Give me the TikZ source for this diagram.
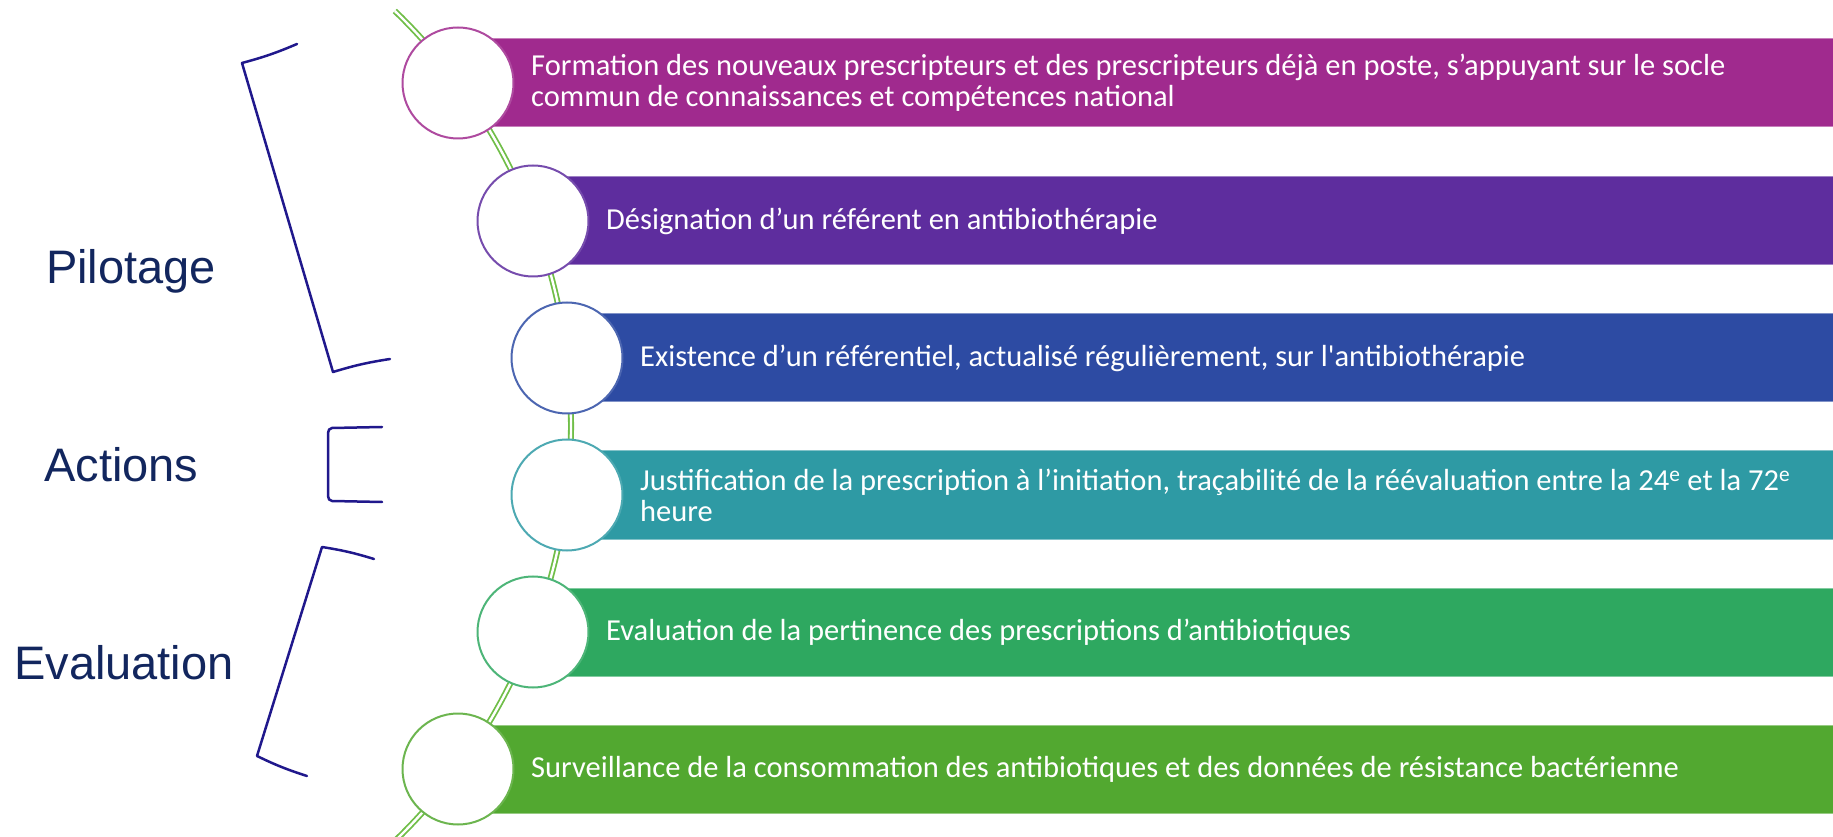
\documentclass[tikz,border=0pt]{standalone}
\usepackage{fontspec}
\setmainfont{Carlito}
\newfontfamily\labelfont{Liberation Sans}
\definecolor{barA}{RGB}{160,42,142}
\definecolor{barB}{RGB}{94,45,158}
\definecolor{barC}{RGB}{45,75,163}
\definecolor{barD}{RGB}{46,154,164}
\definecolor{barE}{RGB}{46,168,96}
\definecolor{barF}{RGB}{82,168,48}
\definecolor{railgreen}{RGB}{112,190,72}
\definecolor{navy}{RGB}{18,38,94}
\definecolor{bracecol}{RGB}{32,24,140}
\begin{document}
\begin{tikzpicture}
  [x=1pt,y=1pt,
  bar/.style={draw=#1!60!white, line width=1pt, fill=#1},
  ring/.style={circle, draw=#1!85!white, line width=2pt, fill=white, minimum size=111pt, inner sep=0pt},
  txt/.style={anchor=west, align=left, text=white, inner sep=0pt, font=\fontsize{30.5}{31}\selectfont},
  lbl/.style={anchor=west, text=navy, inner sep=0pt, font=\labelfont\fontsize{47}{50}\selectfont},
  brace/.style={draw=bracecol, line width=2.5pt, line join=round, line cap=round},
  rail/.style={draw=railgreen, line width=1.8pt, double=white, double distance=2.4pt}]

  \useasboundingbox (0,0) rectangle (1833,836);

  \draw[bar=barA] (458,709) rectangle (1833,797);
  \draw[bar=barB] (533,571) rectangle (1833,659);
  \draw[bar=barC] (567,434) rectangle (1833,522);
  \draw[bar=barD] (567,297) rectangle (1833,385);
  \draw[bar=barE] (533,160) rectangle (1833,248);
  \draw[bar=barF] (458,23) rectangle (1833,111);

  \draw[rail] (-6,410) ++(46:577) arc[start angle=46, end angle=-46, radius=577];

  \node[ring=barA] (c1) at (458,753) {};
  \node[ring=barB] (c2) at (533,615) {};
  \node[ring=barC] (c3) at (567,478) {};
  \node[ring=barD] (c4) at (567,341) {};
  \node[ring=barE] (c5) at (533,204) {};
  \node[ring=barF] (c6) at (458,67) {};

  \node[txt] (t1) at (531,753) {Formation des nouveaux prescripteurs et des prescripteurs déjà en poste, s’appuyant sur le socle\\commun de connaissances et compétences national};
  \node[txt] (t2) at (606,615) {Désignation d’un référent en antibiothérapie};
  \node[txt] (t3) at (640,478) {Existence d’un référentiel, actualisé régulièrement, sur l\textquotesingle antibiothérapie};
  \node[txt] (t4) at (640,341) {Justification de la prescription à l’initiation, traçabilité de la réévaluation entre la 24\textsuperscript{e} et la 72\textsuperscript{e}\\heure};
  \node[txt] (t5) at (606,204) {Evaluation de la pertinence des prescriptions d’antibiotiques};
  \node[txt] (t6) at (531,67) {Surveillance de la consommation des antibiotiques et des données de résistance bactérienne};

  \node[lbl] (pilotage) at (46,565) {Pilotage};
  \node[lbl] (actions) at (44,371) {Actions};
  \node[lbl] (evaluation) at (14,173) {Evaluation};

  \draw[brace] (297,792) to[bend left=4] (242,773) -- (333,464) to[bend left=4] (390,477);
  \draw[brace] (382,409) -- (332,408) to[out=180,in=90] (328,403) -- (328,340) to[out=-90,in=180] (332,335) -- (382,334);
  \draw[brace] (374,277) to[bend right=4] (322,289) -- (257,80) to[bend right=4] (307,60);

\end{tikzpicture}
\end{document}
